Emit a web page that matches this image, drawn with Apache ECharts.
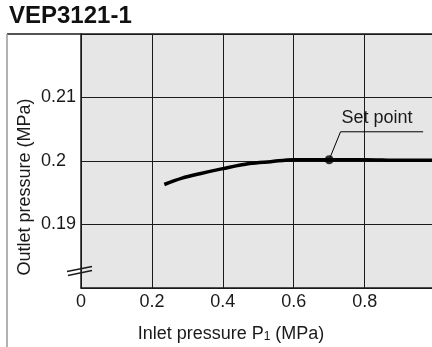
<!DOCTYPE html>
<html lang="en">

<head>
    <meta charset="utf-8" />
    <title>VEP3121-1</title>
    <script src="https://cdn.jsdelivr.net/npm/echarts@6/dist/echarts.min.js"></script>
    <style>
        html,
        body {
            margin: 0;
            padding: 0;
            background: #fff;
        }
    </style>
</head>

<body>
    <div id="chart" style="width: 432px; height: 347px;"></div>

    <script>
        // inlet pressure P1 (MPa) and outlet pressure (MPa)
        var inletP = [0.235, 0.285, 0.335, 0.4, 0.475, 0.535, 0.6, 0.7, 0.8, 0.9, 0.99];
        var outletP = [0.1963, 0.1973, 0.1980, 0.1988, 0.1996, 0.1999, 0.2002, 0.2002, 0.2002, 0.2001, 0.2001];

        // set point and its leader line
        var setPoint = [0.7, 0.2002];
        var leaderX = [0.7, 0.732, 0.965];
        var leaderY = [0.2002, 0.2046, 0.2046];

        // tick labels shown on the axes
        var xTicks = [0, 0.2, 0.4, 0.6, 0.8];
        var yTicks = [0.19, 0.2, 0.21];

        var font = 'Liberation Sans, Arial, Helvetica, sans-serif';
        var ink = '#1a1a1a';

        var curve = inletP.map(function (x, i) { return [x, outletP[i]]; });
        var leader = leaderX.map(function (x, i) { return [x, leaderY[i]]; });

        function pick(list) {
            return function (v) {
                var hit = list.find(function (t) { return Math.abs(t - v) < 1e-6; });
                return hit === undefined ? '' : String(hit);
            };
        }

        var myChart = echarts.init(document.getElementById('chart'));

        var option = {
            backgroundColor: '#fff',
            animation: false,
            grid: {
                left: 81,
                right: 0,
                top: 34,
                bottom: 59,
                show: true,
                backgroundColor: '#e6e6e6',
                borderWidth: 0
            },
            xAxis: {
                type: 'value',
                min: 0,
                max: 0.99,
                interval: 0.2,
                axisLine: { show: true, lineStyle: { color: ink, width: 1.5 } },
                axisTick: { show: false },
                splitLine: { show: true, lineStyle: { color: ink, width: 1 } },
                axisLabel: {
                    color: ink,
                    fontSize: 18,
                    fontFamily: font,
                    margin: 5,
                    showMaxLabel: false,
                    formatter: pick(xTicks)
                }
            },
            yAxis: {
                type: 'value',
                min: 0.18,
                max: 0.22,
                interval: 0.01,
                axisLine: { show: true, lineStyle: { color: ink, width: 1.5 } },
                axisTick: { show: false },
                splitLine: { show: true, lineStyle: { color: ink, width: 1 } },
                axisLabel: {
                    color: ink,
                    fontSize: 18,
                    fontFamily: font,
                    align: 'left',
                    margin: 40,
                    formatter: pick(yTicks)
                }
            },
            series: [{
                type: 'line',
                data: curve,
                smooth: 0.35,
                showSymbol: false,
                lineStyle: { color: '#000', width: 3.5 },
                z: 5
            }, {
                type: 'line',
                data: leader,
                showSymbol: false,
                lineStyle: { color: '#000', width: 1 },
                z: 4
            }, {
                type: 'scatter',
                data: [setPoint],
                symbolSize: 9,
                itemStyle: { color: '#000' },
                z: 6
            }],
            graphic: [
                // title
                {
                    type: 'text', left: 9, top: 4,
                    style: { text: 'VEP3121-1', fill: '#111', font: 'bold 24px ' + font }
                },
                // outer frame lines
                {
                    type: 'line', shape: { x1: 7, y1: 34, x2: 432, y2: 34 },
                    style: { stroke: ink, lineWidth: 1.5 }
                },
                {
                    type: 'line', shape: { x1: 7, y1: 34, x2: 7, y2: 347 },
                    style: { stroke: '#999', lineWidth: 1.5 }
                },
                // break marks on the y axis
                {
                    type: 'line', shape: { x1: 67, y1: 271.5, x2: 92, y2: 266.5 },
                    style: { stroke: ink, lineWidth: 1.3 }, z: 10
                },
                {
                    type: 'line', shape: { x1: 68, y1: 275.5, x2: 92, y2: 270.5 },
                    style: { stroke: ink, lineWidth: 1.3 }, z: 10
                },
                // "Set point" label
                {
                    type: 'text', x: 377, y: 118,
                    style: {
                        text: 'Set point', fill: ink, font: '18px ' + font,
                        align: 'center', verticalAlign: 'middle'
                    }
                },
                // y axis name
                {
                    type: 'text', x: 25, y: 187, rotation: Math.PI / 2,
                    style: {
                        text: 'Outlet pressure (MPa)', fill: ink, font: '18px ' + font,
                        align: 'center', verticalAlign: 'middle'
                    }
                },
                // x axis name with subscript
                {
                    type: 'text', x: 231, y: 334,
                    style: {
                        text: '{a|Inlet pressure P}{s|1}{a| (MPa)}',
                        align: 'center', verticalAlign: 'middle',
                        rich: {
                            a: { fontSize: 18, fontFamily: font, fill: ink },
                            s: { fontSize: 12, fontFamily: font, fill: ink, verticalAlign: 'bottom', padding: [6, 0, 0, 0] }
                        }
                    }
                }
            ]
        };

        myChart.setOption(option);
    </script>
</body>

</html>
